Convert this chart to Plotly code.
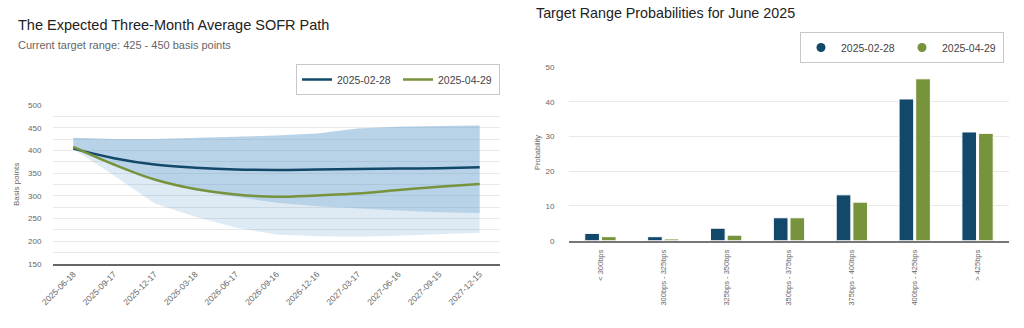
import plotly.graph_objects as go

# ---------------- data ----------------
dates = ["2025-06-18", "2025-09-17", "2025-12-17", "2026-03-18", "2026-06-17",
         "2026-09-16", "2026-12-16", "2027-03-17", "2027-06-16", "2027-09-15", "2027-12-15"]
path_feb = [404, 383, 369, 362, 358, 357, 358, 359, 360, 361, 363]
path_apr = [408, 369, 336, 315, 303, 298, 301, 305, 313, 320, 326]
band_upper = [428, 425, 425, 427, 430, 433, 437, 448, 452, 454, 455]
band_light_lower = [403, 345, 283, 254, 230, 215, 211, 210, 212, 216, 219]
band_dark_lower = [403, 367, 333, 312, 298, 285, 277, 272, 268, 264, 262]

ranges = ["< 300bps", "300bps - 325bps", "325bps - 350bps", "350bps - 375bps",
          "375bps - 400bps", "400bps - 425bps", "> 425bps"]
prob_feb = [2.1, 1.15, 3.6, 6.6, 13.2, 40.8, 31.3]
prob_apr = [1.15, 0.5, 1.6, 6.6, 11.1, 46.6, 30.9]

# ---------------- style ----------------
BLUE = "#124869"
GREEN = "#77933c"
FONT = "Liberation Sans, Arial, sans-serif"
GRID = "#e9e9e9"
TICKC = "#666666"

W, H = 1024, 328
def px_x(a, b):
    return [a / W, b / W]
def px_y(top, bottom):
    return [1 - bottom / H, 1 - top / H]

fig = go.Figure()

# light band (outer range)
fig.add_trace(go.Scatter(x=dates, y=band_upper, mode="lines", line=dict(width=0),
                         showlegend=False, hoverinfo="skip", xaxis="x", yaxis="y"))
fig.add_trace(go.Scatter(x=dates, y=band_light_lower, mode="lines", line=dict(width=0),
                         fill="tonexty", fillcolor="rgba(100,160,210,0.21)",
                         showlegend=False, hoverinfo="skip", xaxis="x", yaxis="y"))
# dark band (inner range)
fig.add_trace(go.Scatter(x=dates, y=band_upper, mode="lines", line=dict(width=0),
                         showlegend=False, hoverinfo="skip", xaxis="x", yaxis="y"))
fig.add_trace(go.Scatter(x=dates, y=band_dark_lower, mode="lines", line=dict(width=0),
                         fill="tonexty", fillcolor="rgba(105,160,205,0.33)",
                         showlegend=False, hoverinfo="skip", xaxis="x", yaxis="y"))

# paths
fig.add_trace(go.Scatter(x=dates, y=path_feb, mode="lines", name="2025-02-28",
                         line=dict(color=BLUE, width=2.5, shape="spline"),
                         xaxis="x", yaxis="y", legend="legend"))
fig.add_trace(go.Scatter(x=dates, y=path_apr, mode="lines", name="2025-04-29",
                         line=dict(color=GREEN, width=2.5, shape="spline"),
                         xaxis="x", yaxis="y", legend="legend"))

# bars
fig.add_trace(go.Bar(x=ranges, y=prob_feb, name="2025-02-28", marker=dict(color=BLUE, line=dict(color="white", width=1)),
                     xaxis="x2", yaxis="y2", showlegend=False))
fig.add_trace(go.Bar(x=ranges, y=prob_apr, name="2025-04-29", marker=dict(color=GREEN, line=dict(color="white", width=1)),
                     xaxis="x2", yaxis="y2", showlegend=False))
# legend entries with circle markers
fig.add_trace(go.Scatter(x=[None], y=[None], mode="markers", name="2025-02-28",
                         marker=dict(color=BLUE, size=9, symbol="circle"),
                         xaxis="x2", yaxis="y2", legend="legend2"))
fig.add_trace(go.Scatter(x=[None], y=[None], mode="markers", name="2025-04-29",
                         marker=dict(color=GREEN, size=9, symbol="circle"),
                         xaxis="x2", yaxis="y2", legend="legend2"))

fig.update_layout(
    width=W, height=H,
    margin=dict(l=0, r=0, t=0, b=0, autoexpand=False),
    paper_bgcolor="white", plot_bgcolor="white",
    font=dict(family=FONT, color="#333333"),
    bargap=0.47, bargroupgap=0.12, barmode="group",
    xaxis=dict(domain=px_x(53, 500), anchor="y", type="category", automargin=False,
               range=[-0.5, 10.5], tickangle=-45, tickfont=dict(size=8.5, color=TICKC),
               showgrid=False, showline=True, linecolor="#666666", linewidth=2,
               ticks="", fixedrange=True),
    yaxis=dict(domain=px_y(105, 264), anchor="x", range=[150, 500], dtick=50, automargin=False,
               tickfont=dict(size=8, color=TICKC), showgrid=True, gridcolor=GRID,
               minor=dict(dtick=25, showgrid=True, gridcolor=GRID),
               zeroline=False, ticks="outside", ticklen=9, tickcolor="rgba(0,0,0,0)"),
    xaxis2=dict(domain=px_x(569, 1009), anchor="y2", type="category", automargin=False,
                range=[-0.5, 6.5], tickangle=-90, tickfont=dict(size=7.5, color=TICKC),
                showgrid=False, showline=True, linecolor="#777777", linewidth=2,
                ticks="outside", ticklen=4, tickcolor="rgba(0,0,0,0)"),
    yaxis2=dict(domain=px_y(67, 240.7), anchor="x2", range=[0, 50], dtick=10, automargin=False,
                tickfont=dict(size=8, color=TICKC), showgrid=True, gridcolor=GRID,
                zeroline=False, ticks="outside", ticklen=12, tickcolor="rgba(0,0,0,0)"),
    legend=dict(orientation="h", x=500 / W, xanchor="right", y=1 - 64 / H, yanchor="top",
                bordercolor="#c8c8c8", borderwidth=1, bgcolor="white", traceorder="normal",
                font=dict(size=10.5, color="#444444"), itemwidth=30, entrywidth=56),
    legend2=dict(orientation="h", x=1004 / W, xanchor="right", y=1 - 32 / H, yanchor="top",
                 bordercolor="#c8c8c8", borderwidth=1, bgcolor="white", traceorder="normal",
                 font=dict(size=10.5, color="#444444"), itemwidth=30, entrywidth=56),
    annotations=[
        dict(text="The Expected Three-Month Average SOFR Path", x=16 / W, y=1 - 25 / H,
             xref="paper", yref="paper", xanchor="left", yanchor="middle", showarrow=False,
             font=dict(size=14.5, color="#222222")),
        dict(text="Current target range: 425 - 450 basis points", x=16 / W, y=1 - 45 / H,
             xref="paper", yref="paper", xanchor="left", yanchor="middle", showarrow=False,
             font=dict(size=11, color="#666666")),
        dict(text="Basis points", x=17 / W, y=1 - 185 / H, xref="paper", yref="paper",
             xanchor="center", yanchor="middle", textangle=-90, showarrow=False,
             font=dict(size=8, color="#666666")),
        dict(text="Target Range Probabilities for June 2025", x=534 / W, y=1 - 13 / H,
             xref="paper", yref="paper", xanchor="left", yanchor="middle", showarrow=False,
             font=dict(size=14.3, color="#222222")),
        dict(text="Probability", x=537 / W, y=1 - 153 / H, xref="paper", yref="paper",
             xanchor="center", yanchor="middle", textangle=-90, showarrow=False,
             font=dict(size=7.5, color="#666666")),
    ],
)

fig.write_html("out.html")
